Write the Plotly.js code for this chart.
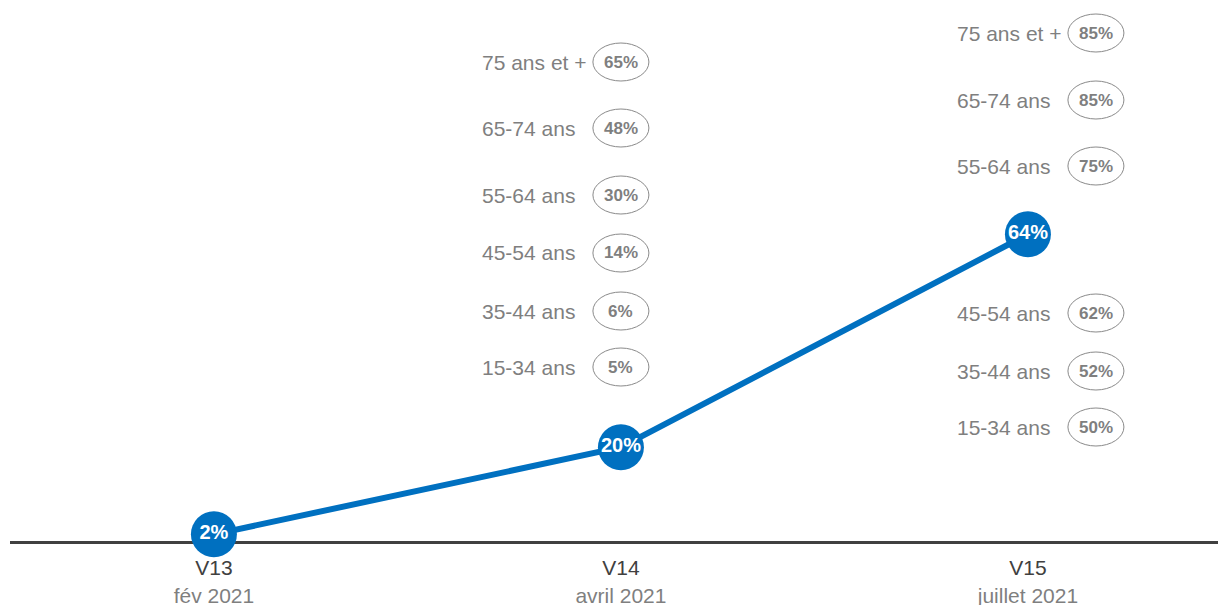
<!DOCTYPE html>
<html>
<head>
<meta charset="utf-8">
<script src="https://cdn.plot.ly/plotly-3.0.1.min.js"></script>
<style>html,body{margin:0;padding:0;background:#fff;}#chart{width:1218px;height:605px;}</style>
</head>
<body>
<div id="chart"></div>
<script>
// ---- data ----
var waves = ["V13", "V14", "V15"];
var periods = ["fév 2021", "avril 2021", "juillet 2021"];
var overall = [2, 20, 64];

var groupsV14 = ["15-34 ans", "35-44 ans", "45-54 ans", "55-64 ans", "65-74 ans", "75 ans et +"];
var valuesV14 = [5, 6, 14, 30, 48, 65];
var groupsV15 = ["15-34 ans", "35-44 ans", "45-54 ans", "55-64 ans", "65-74 ans", "75 ans et +"];
var valuesV15 = [50, 52, 62, 75, 85, 85];

// ---- layout of the label stacks (pixel rows from top of plot) ----
var rowsV14 = [367, 311, 253, 195, 128, 62];
var rowsV15 = [427, 371, 313, 166, 100, 33];
var plotH = 541;

var blue = "#0070C0";
var grey = "#7F7F7F";
var fontFam = "Arial, 'Liberation Sans', sans-serif";

var xIdx = waves.map(function (_, i) { return i; });

var trace = {
  x: xIdx,
  y: overall,
  mode: "lines+markers+text",
  line: { color: blue, width: 6 },
  marker: { color: blue, size: 46 },
  text: overall.map(function (v) { return "<b>" + v + "%</b>"; }),
  textposition: "middle center",
  textfont: { color: "#ffffff", size: 20, family: fontFam },
  cliponaxis: false,
  hoverinfo: "skip"
};

var shapes = [];
var annotations = [];
function addStack(xi, xshift, groups, values, rows) {
  groups.forEach(function (g, i) {
    var py = 1 - rows[i] / plotH;
    shapes.push({
      type: "circle", xref: "x", yref: "paper",
      xsizemode: "pixel", ysizemode: "pixel",
      xanchor: xi, yanchor: py,
      x0: xshift - 28, x1: xshift + 28, y0: -19, y1: 19,
      line: { color: "#8A8A8A", width: 1 },
      fillcolor: "rgba(0,0,0,0)"
    });
    annotations.push({
      x: xi, y: py, xref: "x", yref: "paper",
      xshift: xshift, text: "<b>" + values[i] + "%</b>", showarrow: false,
      font: { size: 17, color: grey, family: fontFam },
      xanchor: "center", yanchor: "middle"
    });
    var isLast = g.indexOf("+") >= 0;
    annotations.push({
      x: xi, y: py, xref: "x", yref: "paper",
      xshift: xshift - (isLast ? 32 : 44), text: g, showarrow: false,
      font: { size: 21, color: grey, family: fontFam },
      xanchor: "right", yanchor: "middle"
    });
  });
}
addStack(1, 0, groupsV14, valuesV14, rowsV14);
addStack(2, 68, groupsV15, valuesV15, rowsV15);

var layout = {
  width: 1218, height: 605,
  margin: { l: 10, r: 0, t: 0, b: 64 },
  paper_bgcolor: "#ffffff", plot_bgcolor: "#ffffff",
  showlegend: false,
  xaxis: {
    range: [-0.501, 2.467],
    tickvals: xIdx,
    ticktext: waves.map(function (w, i) {
      return w + "<br><span style='color:#7F7F7F'>" + periods[i] + "</span>";
    }),
    tickfont: { size: 21, color: "#404040", family: fontFam },
    ticklabelstandoff: 6,
    showgrid: false, zeroline: false,
    showline: true, linecolor: "#404040", linewidth: 3,
    ticks: "", layer: "below traces",
    fixedrange: true
  },
  yaxis: {
    range: [0.62, 112.42],
    visible: false, showgrid: false, zeroline: false,
    fixedrange: true
  },
  shapes: shapes,
  annotations: annotations
};

Plotly.newPlot("chart", [trace], layout, { displayModeBar: false, staticPlot: true });
</script>
</body>
</html>
